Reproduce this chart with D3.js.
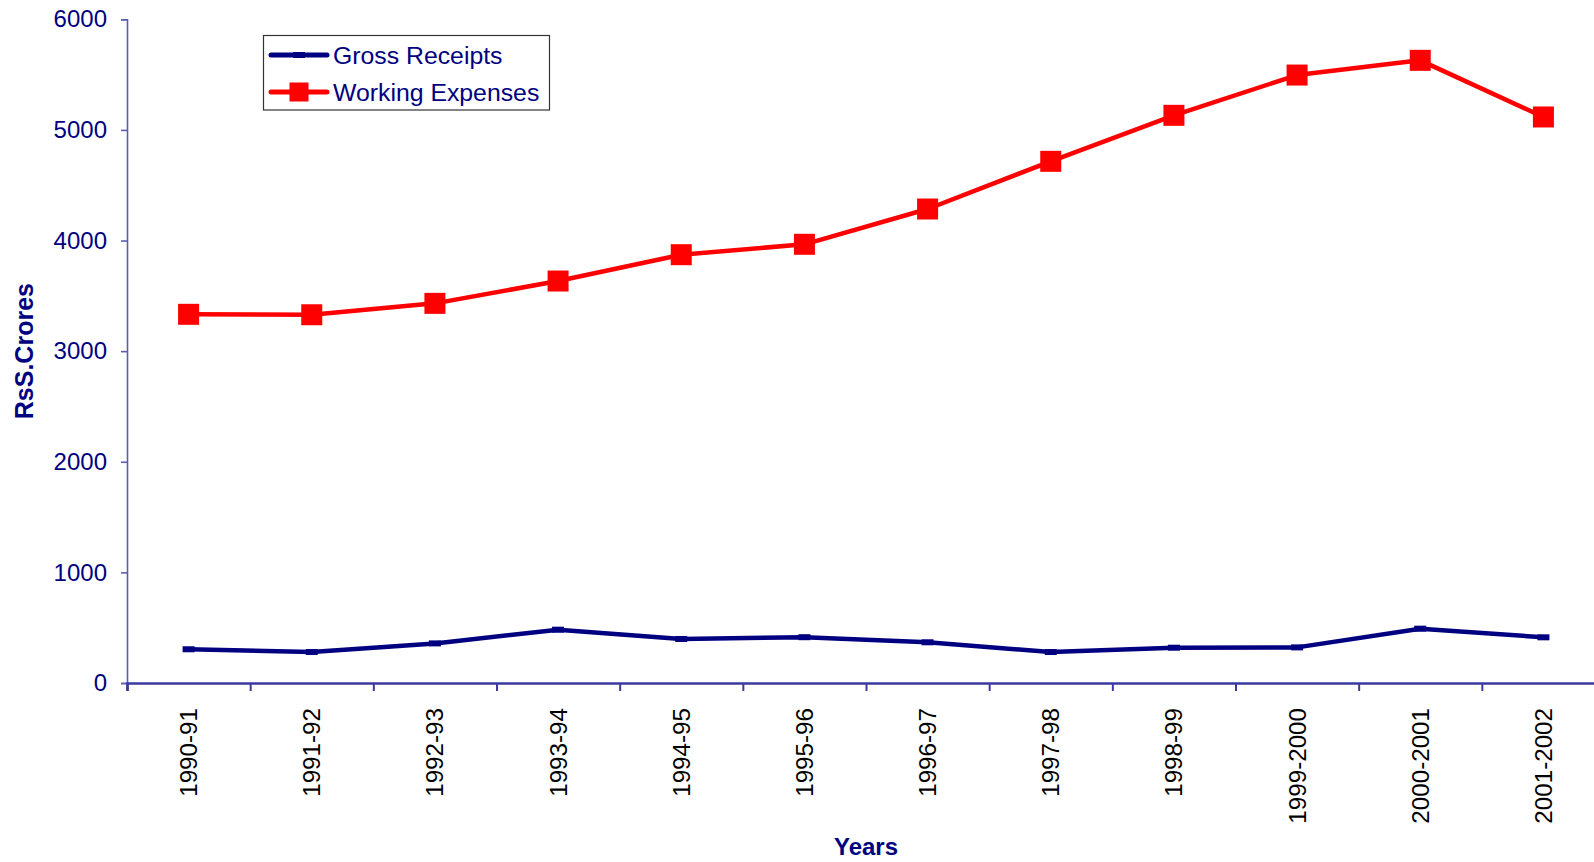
<!DOCTYPE html>
<html>
<head>
<meta charset="utf-8">
<script src="https://cdn.jsdelivr.net/npm/d3@7/dist/d3.min.js"></script>
<style>
  html, body { margin: 0; padding: 0; background: #ffffff; }
  svg { display: block; }
  text { font-family: "Liberation Sans", Arial, sans-serif; fill: #000080; }
</style>
</head>
<body>
<svg id="chart" width="1594" height="862"></svg>
<script>
// Financial years on the category axis
const years = ["1990-91", "1991-92", "1992-93", "1993-94", "1994-95", "1995-96",
               "1996-97", "1997-98", "1998-99", "1999-2000", "2000-2001", "2001-2002"];

// Gross receipts (Rs. crores)
const grossReceipts = [305, 280, 358, 482, 398, 414, 368, 280, 319, 322, 491, 413];

// Working expenses (Rs. crores)
const workingExpenses = [3333, 3329, 3432, 3634, 3872, 3966, 4285, 4716, 5132, 5496, 5629, 5117];

// Value axis ticks
const yTicks = [0, 1000, 2000, 3000, 4000, 5000, 6000];

const seriesNames = ["Gross Receipts", "Working Expenses"];

const svg = d3.select("#chart");
const navy = "#000080";

const plot = { left: 127, right: 1605, top: 19.3, bottom: 683 };

const x = d3.scaleBand().domain(years).range([plot.left, plot.right]).paddingInner(0).paddingOuter(0);
const xEdge = d3.scaleLinear().domain([0, years.length]).range([plot.left, plot.right]);
const y = d3.scaleLinear().domain([0, 6000]).range([plot.bottom, plot.top]);
const cx = d => x(d) + x.bandwidth() / 2;

// Y axis
const yAxis = svg.append("g")
  .attr("transform", `translate(${plot.left},0)`)
  .call(d3.axisLeft(y).tickValues(yTicks).tickSize(6).tickPadding(14).tickFormat(d3.format("d")));
yAxis.select(".domain").attr("stroke", "#5c5cb0").attr("stroke-width", 1.6);
yAxis.selectAll(".tick line").attr("stroke", "#5c5cb0").attr("stroke-width", 1.6);
yAxis.selectAll(".tick text").attr("font-size", 24).attr("fill", navy)
  .attr("font-family", '"Liberation Sans", Arial, sans-serif');

// X axis line with tick marks at category boundaries
const xAxis = svg.append("g")
  .attr("transform", `translate(0,${plot.bottom})`)
  .call(d3.axisBottom(xEdge).tickValues(d3.range(years.length + 1)).tickSize(8).tickFormat(""));
xAxis.select(".domain").attr("stroke", "#3a3a9e").attr("stroke-width", 2.6);
xAxis.selectAll(".tick line").attr("stroke", "#3a3a9e").attr("stroke-width", 2);

// Rotated category labels
svg.append("g").selectAll("text")
  .data(years)
  .join("text")
  .attr("transform", d => `translate(${cx(d)},${plot.bottom + 25}) rotate(-90)`)
  .attr("text-anchor", "end")
  .attr("dy", "0.35em")
  .attr("font-size", 24.2)
  .style("fill", "#000000")
  .text(d => d);

// Axis titles
svg.append("text")
  .attr("transform", `translate(33,${(plot.top + plot.bottom) / 2}) rotate(-90)`)
  .attr("text-anchor", "middle")
  .attr("font-size", 25)
  .attr("font-weight", "bold")
  .text("RsS.Crores");

svg.append("text")
  .attr("x", (plot.left + plot.right) / 2)
  .attr("y", 855)
  .attr("text-anchor", "middle")
  .attr("font-size", 24)
  .attr("font-weight", "bold")
  .text("Years");

// Series lines
const line = d3.line().x((d, i) => cx(years[i])).y(d => y(d));

svg.append("path")
  .datum(grossReceipts)
  .attr("fill", "none")
  .attr("stroke", navy)
  .attr("stroke-width", 4.5)
  .attr("stroke-linejoin", "round")
  .attr("d", line);

svg.append("g").selectAll("rect")
  .data(grossReceipts)
  .join("rect")
  .attr("x", (d, i) => cx(years[i]) - 6)
  .attr("y", d => y(d) - 3)
  .attr("width", 12)
  .attr("height", 6)
  .attr("fill", navy);

svg.append("path")
  .datum(workingExpenses)
  .attr("fill", "none")
  .attr("stroke", "#ff0000")
  .attr("stroke-width", 4.5)
  .attr("stroke-linejoin", "round")
  .attr("d", line);

svg.append("g").selectAll("rect")
  .data(workingExpenses)
  .join("rect")
  .attr("x", (d, i) => cx(years[i]) - 10.5)
  .attr("y", d => y(d) - 10.5)
  .attr("width", 21)
  .attr("height", 21)
  .attr("fill", "#ff0000");

// Legend
const legend = svg.append("g");
legend.append("rect")
  .attr("x", 263.5).attr("y", 35.5)
  .attr("width", 286).attr("height", 74.5)
  .attr("fill", "#ffffff")
  .attr("stroke", "#333333")
  .attr("stroke-width", 1.2);

const legendRows = [
  { name: seriesNames[0], color: navy, marker: false, yPos: 55 },
  { name: seriesNames[1], color: "#ff0000", marker: true, yPos: 92 }
];

legendRows.forEach(r => {
  legend.append("line")
    .attr("x1", 271).attr("x2", 327)
    .attr("y1", r.yPos).attr("y2", r.yPos)
    .attr("stroke", r.color)
    .attr("stroke-width", 5)
    .attr("stroke-linecap", "round");
  if (r.marker) {
    legend.append("rect")
      .attr("x", 289.5).attr("y", r.yPos - 9.5)
      .attr("width", 19).attr("height", 19)
      .attr("fill", r.color);
  } else {
    legend.append("rect")
      .attr("x", 293).attr("y", r.yPos - 3)
      .attr("width", 12).attr("height", 6)
      .attr("fill", r.color);
  }
  legend.append("text")
    .attr("x", 333)
    .attr("y", r.yPos)
    .attr("dy", "0.35em")
    .attr("font-size", 24.8)
    .text(r.name);
});
</script>
</body>
</html>
